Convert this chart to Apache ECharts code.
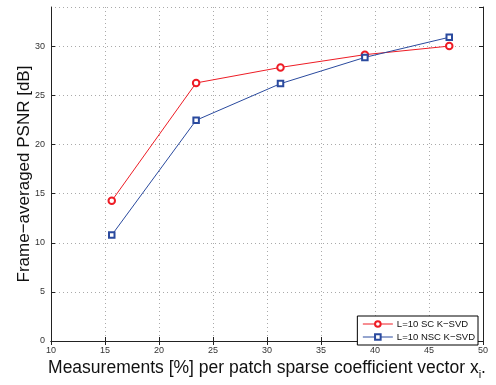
<!DOCTYPE html>
<html>
<head>
    <meta charset="utf-8">
    <title>PSNR vs measurements</title>
    <script src="https://cdn.jsdelivr.net/npm/echarts@6/dist/echarts.min.js"></script>
</head>
<body style="margin:0">
    <div id="main" style="width: 496px;height:385px;"></div>
    <script type="text/javascript">
        // measurement rates (x) and PSNR per method
        var measurements = [15.625, 23.4375, 31.25, 39.0625, 46.875];
        var scKsvd = [14.27, 26.27, 27.85, 29.15, 30.02];
        var nscKsvd = [10.78, 22.47, 26.2, 28.87, 30.92];
        var seriesNames = ['L=10 SC K\u2212SVD', 'L=10 NSC K\u2212SVD'];

        var font = 'Liberation Sans, Arial, sans-serif';
        var grid = { type: [1, 3], color: '#aaa', width: 1 };

        function pairs(ys) {
          return measurements.map(function (x, i) { return [x, ys[i]]; });
        }

        var myChart = echarts.init(document.getElementById('main'));
        var option = {
          animation: false,
          backgroundColor: '#fff',
          grid: { left: 51, right: 13, top: 7, bottom: 38 },
          legend: {
            right: 18, top: 316,
            orient: 'vertical',
            itemWidth: 30, itemHeight: 7, itemGap: 3,
            padding: [3, 3, 3, 5],
            borderColor: '#000', borderWidth: 1,
            backgroundColor: '#fff',
            textStyle: { fontFamily: font, fontSize: 9.5, color: '#111', padding: [0, 0, 0, -1] },
            lineStyle: { width: 1 },
            data: seriesNames
          },
          xAxis: [{
            type: 'value', min: 10, max: 50, interval: 5,
            name: 'Measurements [%] per patch sparse coefficient vector x{sub|i}.',
            nameLocation: 'middle', nameGap: 16, nameMoveOverlap: false,
            nameTextStyle: {
              fontFamily: font, fontSize: 17.5, color: '#111',
              rich: { sub: { fontFamily: font, fontSize: 11, color: '#111', padding: [12, 0, 0, 0] } }
            },
            axisLine: { show: true, lineStyle: { color: '#222', width: 1 } },
            axisTick: { show: true, inside: true, length: 4, lineStyle: { color: '#222' } },
            axisLabel: { fontFamily: font, fontSize: 9, color: '#333', margin: 5 },
            splitLine: { show: true, lineStyle: grid }
          }, {
            type: 'value', min: 10, max: 50, interval: 5, position: 'top',
            axisLine: { show: true, lineStyle: { color: '#222', width: 1 } },
            axisTick: { show: true, inside: true, length: 4, lineStyle: { color: '#222' } },
            axisLabel: { show: false },
            splitLine: { show: false }
          }],
          yAxis: [{
            type: 'value', min: 0, max: 34, interval: 5,
            name: 'Frame\u2212averaged PSNR [dB]',
            nameLocation: 'middle', nameGap: 18, nameMoveOverlap: false,
            nameTextStyle: { fontFamily: font, fontSize: 17, color: '#111' },
            axisLine: { show: true, lineStyle: { color: '#222', width: 1 } },
            axisTick: { show: true, inside: true, length: 4, lineStyle: { color: '#222' } },
            axisLabel: { fontFamily: font, fontSize: 9, color: '#333', margin: 6, showMaxLabel: false },
            splitLine: { show: true, lineStyle: grid }
          }, {
            type: 'value', min: 0, max: 34, interval: 5, position: 'right',
            axisLine: { show: true, lineStyle: { color: '#222', width: 1 } },
            axisTick: { show: true, inside: true, length: 4, lineStyle: { color: '#222' } },
            axisLabel: { show: false },
            splitLine: { show: false }
          }],
          series: [{
            name: seriesNames[0],
            type: 'line',
            data: pairs(scKsvd),
            symbol: 'emptyCircle', symbolSize: 6.5,
            color: '#ee1c25',
            lineStyle: { width: 1 },
            itemStyle: { borderWidth: 1 }
          }, {
            name: seriesNames[1],
            type: 'line',
            data: pairs(nscKsvd),
            symbol: 'emptyRect', symbolSize: 5.5,
            color: '#2a4a9e',
            lineStyle: { width: 1 },
            itemStyle: { borderWidth: 1 }
          }]
        };
        myChart.setOption(option);
    </script>
</body>
</html>
